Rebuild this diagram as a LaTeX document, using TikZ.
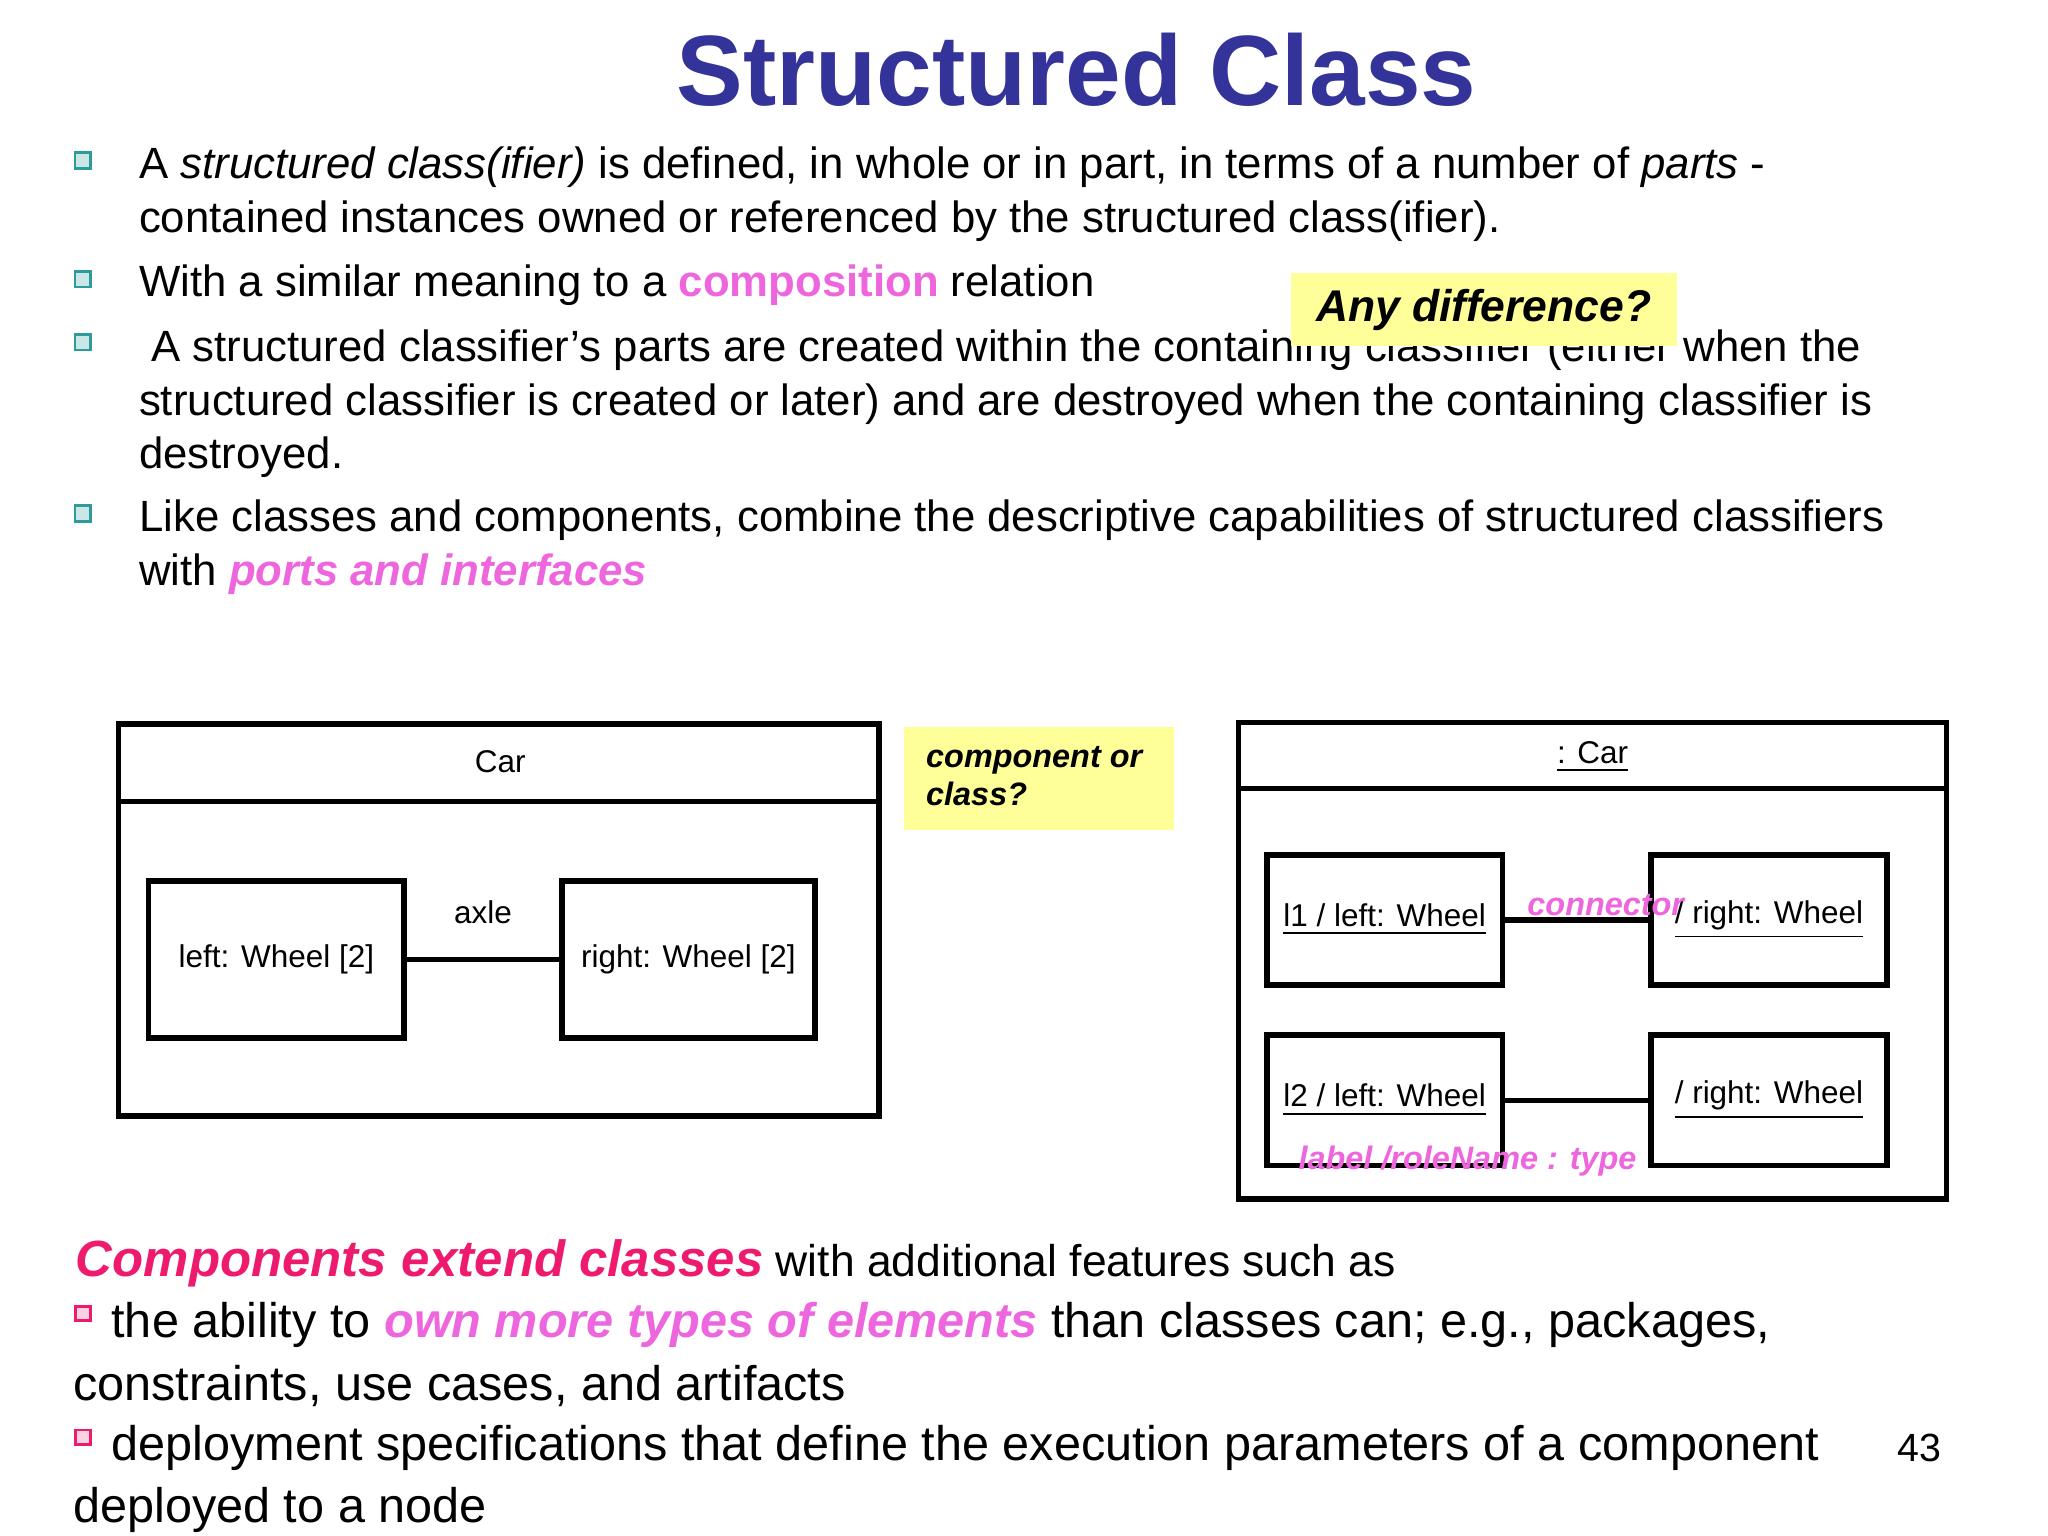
\documentclass[tikz,border=0pt]{standalone}
\usepackage{fontspec}
\setmainfont{Liberation Sans}
\newcommand{\myul}[1]{\underline{#1}}
\definecolor{ttl}{HTML}{333399}
\definecolor{pk}{HTML}{EE66DD}
\definecolor{rd}{HTML}{EE1A6E}
\definecolor{yl}{HTML}{FFFF99}
\definecolor{tl}{HTML}{2E9A9A}
\tikzset{
 body/.style={anchor=west,inner sep=0pt,font=\fontsize{9.45pt}{11pt}\selectfont},
 big/.style={anchor=west,inner sep=0pt,font=\fontsize{10.5pt}{12pt}\selectfont},
 sq/.style={draw=tl,fill=tl!25,line width=0.6pt,minimum size=0.12cm,inner sep=0pt},
 sqr/.style={draw=rd,fill=rd!20,line width=0.6pt,minimum size=0.11cm,inner sep=0pt},
 frame/.style={draw,line width=1.2pt},
 small/.style={inner sep=0pt,font=\fontsize{6.8pt}{8pt}\selectfont},
 note/.style={inner sep=0pt,font=\fontsize{7pt}{9pt}\selectfont\bfseries\itshape,text=pk},
}
\begin{document}
\begin{tikzpicture}[x=0.01cm,y=-0.01cm]
\useasboundingbox (0,0) rectangle (1556,1167);
\node[font=\fontsize{21.6pt}{24pt}\selectfont\bfseries,text=ttl] (title) at (818,53) {Structured Class};
\foreach \i/\y in {b1/122,b2/212,b3/260,b4/390}{\node[sq] (\i) at (63,\y) {};}
\node[body] (t1a) at (105,127) {A \textit{structured class(ifier)} is defined, in whole or in part, in terms of a number of \textit{parts} -};
\node[body] (t1b) at (105,168) {contained instances owned or referenced by the structured class(ifier).};
\node[body] (t2) at (105,217) {With a similar meaning to a \textbf{\textcolor{pk}{composition}} relation};
\node[body] (t3a) at (105,266) {\ A structured classifier’s parts are created within the containing classifier (either when the};
\node[body] (t3b) at (105,307) {structured classifier is created or later) and are destroyed when the containing classifier is};
\node[body] (t3c) at (105,347) {destroyed.};
\node[body] (t4a) at (105,395) {Like classes and components, combine the descriptive capabilities of structured classifiers};
\node[body] (t4b) at (105,436) {with \textbf{\textit{\textcolor{pk}{ports and interfaces}}}};
\node[fill=yl,inner sep=0pt,anchor=north west,minimum width=2.93cm,minimum height=0.55cm,font=\fontsize{9.6pt}{10pt}\selectfont\bfseries\itshape] (diff) at (980,207) {Any difference?};
\draw[frame] (90,550) rectangle (668,848);
\draw[frame] (90,609) -- (668,609);
\node[small] (car) at (380,579) {Car};
\node[frame,small,minimum width=1.94cm,minimum height=1.19cm] (lw) at (210,729) {left: Wheel [2]};
\node[frame,small,minimum width=1.92cm,minimum height=1.19cm] (rw) at (523,729) {right: Wheel [2]};
\draw[line width=1.2pt] (lw) -- node[small,above=0.25cm] (axle) {axle} (rw);
\node[fill=yl,anchor=north west,minimum width=2.05cm,minimum height=0.78cm,inner sep=0pt] (cc) at (686,552) {};
\node[anchor=north west,inner sep=0pt,align=left,font=\fontsize{7pt}{8.3pt}\selectfont\bfseries\itshape] (cct) at (703,566) {component or\\class?};
\draw[frame] (941,549) rectangle (1479,911);
\draw[frame] (941,599) -- (1479,599);
\node[small] (car2) at (1210,575) {\myul{: Car}};
\node[frame,small,minimum width=1.79cm,minimum height=0.99cm] (a1) at (1052,699) {\myul{l1 / left: Wheel}};
\node[frame,small,minimum width=1.79cm,minimum height=0.99cm] (a2) at (1344,699) {\myul{/ right: Wheel}};
\node[frame,small,minimum width=1.79cm,minimum height=0.99cm] (c1) at (1052,836) {\myul{l2 / left: Wheel}};
\node[frame,small,minimum width=1.79cm,minimum height=0.99cm] (c2) at (1344,836) {\myul{/ right: Wheel}};
\draw[line width=1.2pt] (a1) -- (a2);
\draw[line width=1.2pt] (c1) -- (c2);
\node[note] (con) at (1220,688) {connector};
\node[note] (lab) at (1115,882) {label /roleName : type};
\node[big] (c0) at (57,960) {\fontsize{11pt}{12pt}\selectfont\textbf{\textit{\textcolor{rd}{Components extend classes}}}\fontsize{9.6pt}{11pt}\selectfont{} with additional features such as};
\node[sqr] (s1) at (63,998) {};
\node[big] (u1) at (84,1007) {the ability to \textbf{\textit{\textcolor{pk}{own more types of elements}}} than classes can; e.g., packages,};
\node[big] (u2) at (55,1053) {constraints, use cases, and artifacts};
\node[sqr] (s2) at (63,1092) {};
\node[big] (u3) at (84,1100) {deployment specifications that define the execution parameters of a component};
\node[big] (u4) at (55,1147) {deployed to a node};
\node[inner sep=0pt,font=\fontsize{8.5pt}{10pt}\selectfont] (pg) at (1458,1100) {43};
\end{tikzpicture}
\end{document}
